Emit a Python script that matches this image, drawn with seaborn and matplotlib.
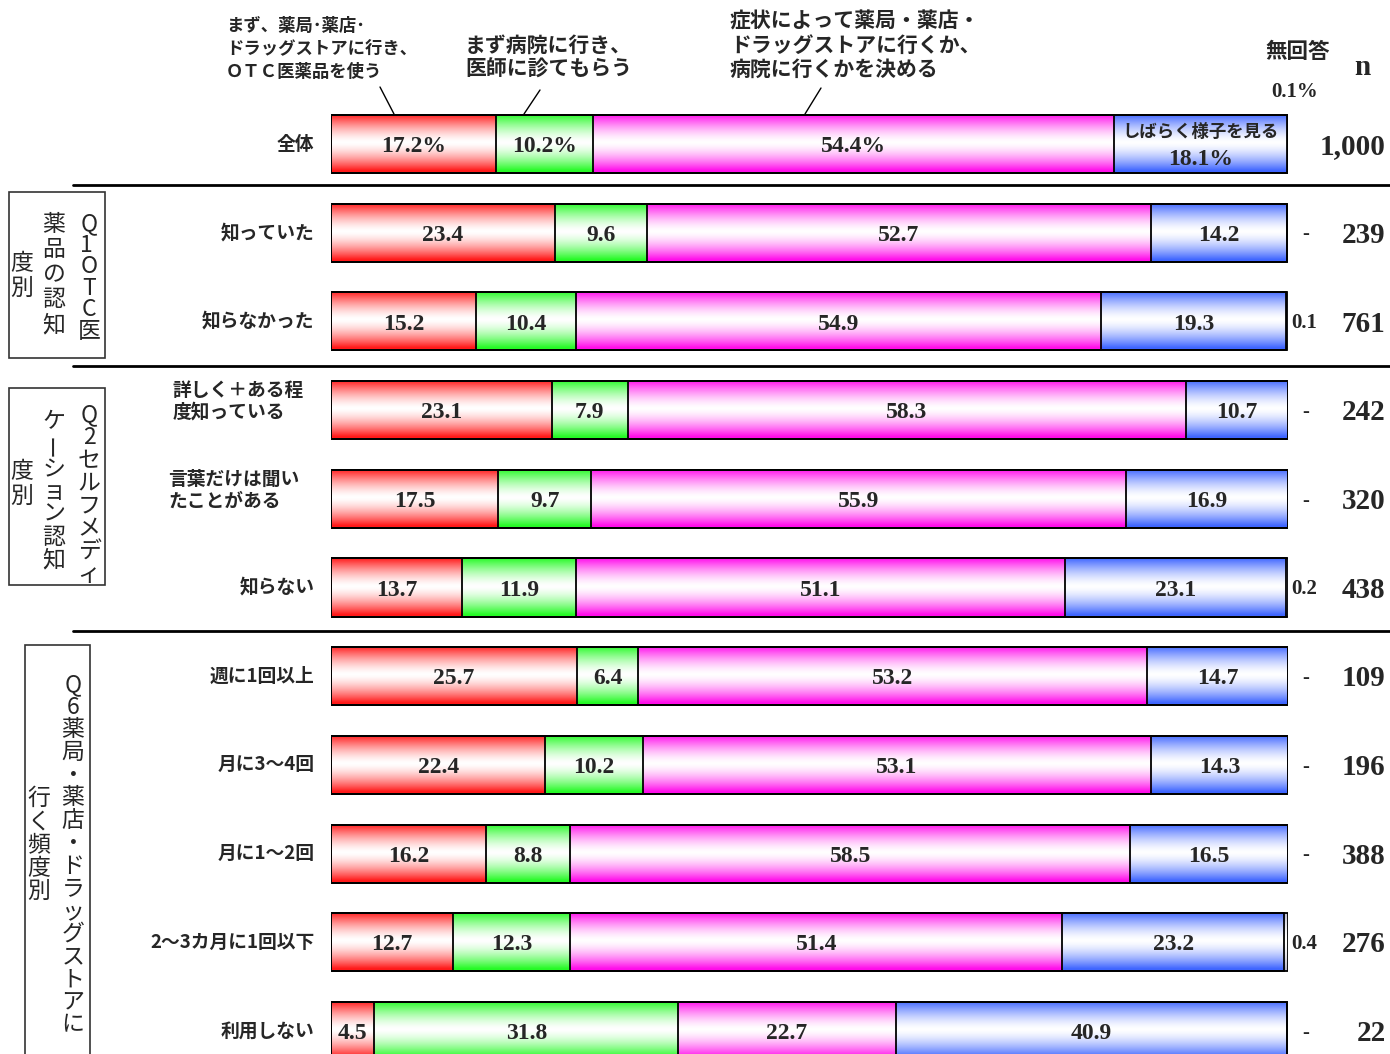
import numpy as np
import pandas as pd
import matplotlib
matplotlib.use("Agg")
import matplotlib.pyplot as plt
from matplotlib.lines import Line2D
from matplotlib.patches import Rectangle
from matplotlib.font_manager import FontProperties
import seaborn as sns

# ---------------- data ----------------
categories = ["全体", "知っていた", "知らなかった", "詳しく＋ある程\n度知っている",
              "言葉だけは聞い\nたことがある", "知らない", "週に1回以上", "月に3～4回",
              "月に1～2回", "2～3カ月に1回以下", "利用しない"]
otc = [17.2, 23.4, 15.2, 23.1, 17.5, 13.7, 25.7, 22.4, 16.2, 12.7, 4.5]
hospital = [10.2, 9.6, 10.4, 7.9, 9.7, 11.9, 6.4, 10.2, 8.8, 12.3, 31.8]
depends = [54.4, 52.7, 54.9, 58.3, 55.9, 51.1, 53.2, 53.1, 58.5, 51.4, 22.7]
wait = [18.1, 14.2, 19.3, 10.7, 16.9, 23.1, 14.7, 14.3, 16.5, 23.2, 40.9]
noans = [0.1, 0.0, 0.1, 0.0, 0.0, 0.2, 0.0, 0.0, 0.0, 0.4, 0.0]
n_values = ["1,000", "239", "761", "242", "320", "438", "109", "196", "388", "276", "22"]

series_names = ["まず、薬局･薬店･ドラッグストアに行き、ＯＴＣ医薬品を使う",
                "まず病院に行き、医師に診てもらう",
                "症状によって薬局・薬店・ドラッグストアに行くか、病院に行くかを決める",
                "しばらく様子を見る", "無回答"]

# ---------------- style ----------------
sns.set_theme(style="white")
plt.rcParams['font.family'] = ['Noto Sans CJK JP', 'DejaVu Sans']
JP = ['Noto Sans CJK JP', 'DejaVu Sans']
SERIF = ['Liberation Serif', 'DejaVu Serif']

W, H = 1390, 1054
fig = plt.figure(figsize=(W / 100, H / 100), dpi=100)
fig.patch.set_facecolor("white")


def fx(px):
    return px / W


def fy(py):
    return 1 - py / H


# axes: x 331..1288 px = 0..100 %
ax = fig.add_axes([fx(331), 0, (1288 - 331) / W, 1])
ax.set_facecolor("none")

df = pd.DataFrame({"cat": categories, "otc": otc, "hospital": hospital,
                   "depends": depends, "wait": wait, "noans": noans})
cum1 = df["otc"]
cum2 = cum1 + df["hospital"]
cum3 = cum2 + df["depends"]
cum4 = cum3 + df["wait"]
cum5 = cum4 + df["noans"]

colors = {
    "noans": (0.72, 0.72, 0.78),
    "wait": (0.25, 0.40, 1.0),
    "depends": (1.0, 0.05, 0.92),
    "hospital": (0.15, 0.98, 0.15),
    "otc": (1.0, 0.10, 0.10),
}
layers = [("noans", cum5), ("wait", cum4), ("depends", cum3),
          ("hospital", cum2), ("otc", cum1)]

BAR_H = 0.654
layer_patches = []
for name, vals in layers:
    before = len(ax.patches)
    sns.barplot(x=vals.values, y=df["cat"], orient="h", width=BAR_H,
                color=colors[name], edgecolor="black", linewidth=1.3,
                errorbar=None, ax=ax)
    layer_patches.append((name, ax.patches[before:]))

# gradient fills clipped to each bar
t = np.linspace(0, 1, 256)
wfrac = np.clip(1 - (np.abs(t - 0.48) / 0.48) ** 1.5, 0, 1)
for k, (name, patches) in enumerate(layer_patches):
    c = np.array(colors[name])
    grad = (c[None, :] * (1 - wfrac[:, None]) + wfrac[:, None] * 1.0)
    grad = grad[:, None, :]
    for p in patches:
        x0, y0 = p.get_x(), p.get_y()
        w, h = p.get_width(), p.get_height()
        if w <= 0:
            continue
        im = ax.imshow(grad, extent=(x0, x0 + w, y0 + h, y0), origin="upper",
                       aspect="auto", zorder=1 + 0.01 * k, interpolation="bilinear")
        im.set_clip_path(p)
        p.set_facecolor("none")
        p.set_zorder(3)

ax.set_xlim(0, 100)
ax.set_ylim((1054 - 144) / 88.7, -144 / 88.7)
ax.set_xticks([])
ax.set_yticks([])
ax.set_xlabel("")
ax.set_ylabel("")
for s in ax.spines.values():
    s.set_visible(False)

# value labels
VAL_FS = 17
for i in range(len(categories)):
    segs = [(0, otc[i]), (cum1[i], hospital[i]), (cum2[i], depends[i]), (cum3[i], wait[i])]
    for j, (start, v) in enumerate(segs):
        xc = start + v / 2
        if i == 0:
            if j == 3:
                ax.text(xc, i - 0.14, series_names[3], ha="center", va="center",
                        fontsize=12.5, fontweight="bold", family=JP, zorder=5)
                ax.text(xc, i + 0.17, f"{v:.1f}%", ha="center", va="center",
                        fontsize=VAL_FS, fontweight="bold", family=SERIF, zorder=5)
            else:
                ax.text(xc, i + 0.03, f"{v:.1f}%", ha="center", va="center",
                        fontsize=VAL_FS, fontweight="bold", family=SERIF, zorder=5)
        else:
            ax.text(xc, i + 0.03, f"{v:.1f}", ha="center", va="center",
                    fontsize=VAL_FS, fontweight="bold", family=SERIF, zorder=5)
    if i > 0:
        if noans[i] > 0:
            ax.text(100.3, i + 0.02, f"{noans[i]:.1f}", ha="left", va="center",
                    fontsize=15, fontweight="bold", family=SERIF)
        else:
            ax.text(101.9, i + 0.02, "-", ha="center", va="center", fontsize=15,
                    fontweight="bold", family=SERIF)
    ax.text(110.2, i + 0.03, n_values[i], ha="right", va="center", fontsize=21,
            fontweight="bold", family=SERIF)

# category labels
for i, lab in enumerate(categories):
    if "\n" in lab:
        xl = -16.6 if lab.startswith("詳") else -17.0
        ax.text(xl, i - 0.1, lab, ha="left", va="center", multialignment="left",
                fontsize=13.5, fontweight="bold", family=JP, linespacing=1.2)
    else:
        ax.text(-1.75, i, lab, ha="right", va="center", fontsize=13.5,
                fontweight="bold", family=JP)


# top annotations
def ftext(px, py, s, **kw):
    fig.text(fx(px), fy(py), s, **kw)


ann = dict(fontweight="bold", family=JP, va="center", ha="left")
ftext(226, 26, "まず、薬局･薬店･", fontsize=12.5, **ann)
ftext(226, 49, "ドラッグストアに行き、", fontsize=12.5, **ann)
ftext(226, 72, "ＯＴＣ医薬品を使う", fontsize=12.5, **ann)
ftext(465, 45, "まず病院に行き、", fontsize=15, **ann)
ftext(465, 69, "医師に診てもらう", fontsize=15, **ann)
ftext(730, 21, "症状によって薬局・薬店・", fontsize=15, **ann)
ftext(730, 45, "ドラッグストアに行くか、", fontsize=15, **ann)
ftext(730, 69, "病院に行くかを決める", fontsize=15, **ann)
ftext(1298, 52, "無回答", fontsize=15.5, fontweight="bold", family=JP, va="center", ha="center")
ftext(1295, 92, "0.1%", fontsize=15, fontweight="bold", family=SERIF, va="center", ha="center")
ftext(1362, 68, "n", fontsize=21, fontweight="bold", family=SERIF, va="center", ha="center")

for (x1, y1, x2, y2) in [(380, 87, 394, 114), (540, 90, 524, 114), (821, 88, 805, 114)]:
    fig.add_artist(Line2D([fx(x1), fx(x2)], [fy(y1), fy(y2)], color="black", lw=1))

# separators
for yy in [185, 366, 631]:
    fig.add_artist(Line2D([fx(73), fx(1390)], [fy(yy), fy(yy)], color="black", lw=2))

# group boxes
for (x0, y0, x1, y1) in [(9, 192, 105, 358), (9, 388, 105, 585), (25, 645, 90, 1060)]:
    fig.add_artist(Rectangle((fx(x0), fy(y1)), fx(x1) - fx(x0), fy(y0) - fy(y1),
                             fill=False, edgecolor="#333333", lw=1.2,
                             transform=fig.transFigure))

# vertical (tategaki) group titles
renderer = fig.canvas.get_renderer()
VSIZE = 16.5


def vcol(xc, top, lines, pitch, size=VSIZE, rot=0):
    fp = FontProperties(family=JP, size=size)
    _, lph, lpd = renderer.get_text_width_height_descent("lp", fp, ismath=False)
    A = lph - lpd
    D = lpd
    for ln in lines:
        _, h, d = renderer.get_text_width_height_descent(ln.strip() or "l", fp, ismath=False)
        A = max(A, max(h, lph) - max(d, lpd))
        D = max(D, d)
    ls = max((pitch - D) / A, 0.3)
    fig.text(fx(xc), fy(top), "\n".join(lines), ha="center", va="top",
             fontsize=size, family=JP, linespacing=ls, rotation=rot)


def vchar_rot(xc, yc, ch, size=VSIZE):
    fig.text(fx(xc), fy(yc), ch, ha="center", va="center", fontsize=size,
             family=JP, rotation=90)


vcol(89, 212, ["Q", "1 ", "O", "T", "C", "医"], 21.6)
vcol(54, 213, list("薬品の認知"), 25)
vcol(22, 252, list("度別"), 25)
vcol(89, 403, list("Q2セルフメディ"), 22.9)
vcol(54, 410, ["ケ"], 22.8)
vchar_rot(54, 445, "ー")
vcol(54, 458, list("ション認知"), 22.5)
vcol(22, 460, list("度別"), 25)
vcol(73, 673, list("Q6薬局・薬店・ドラッグストアに"), 22.7)
vcol(39, 787, list("行く頻度別"), 23.3)

fig.savefig("out.png", dpi=100, facecolor="white")
